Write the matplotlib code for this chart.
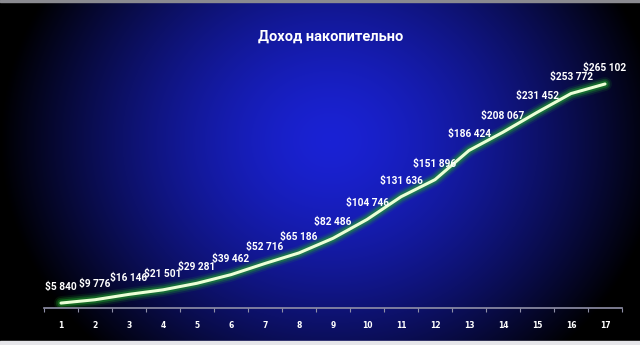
import numpy as np
import matplotlib
matplotlib.use("Agg")
import matplotlib.pyplot as plt
from matplotlib.patches import Rectangle

# данные
months = [str(i) for i in range(1, 18)]
income = [5840, 9776, 16146, 21501, 29281, 39462, 52716, 65186, 82486,
          104746, 131636, 151896, 186424, 208067, 231452, 253772, 265102]
title = "Доход накопительно"


def money(v):
    return "$" + f"{v:,}".replace(",", " ")


fig = plt.figure(figsize=(6.4, 3.45), dpi=100)
fig.patch.set_facecolor("black")

# фон: радиальный градиент
bg = fig.add_axes([0, 0, 1, 1])
bg.set_axis_off()
W, H = 640, 345
xx, yy = np.meshgrid(np.arange(W), np.arange(H))
d = np.sqrt(((xx - 330) / 330.0) ** 2 + ((yy - 140) / 290.0) ** 2)
k = np.clip(1 - d ** 1.5, 0, 1)
center = np.array([26, 34, 212]) / 255.0
img = k[..., None] * center[None, None, :]
bg.imshow(img, extent=[0, 1, 0, 1], aspect="auto", origin="upper")
bg.set_xlim(0, 1)
bg.set_ylim(0, 1)
bg.add_patch(Rectangle((0, 0), 1, 4 / H, color="#e6e6ea", zorder=3))
bg.add_patch(Rectangle((0, 1 - 1.5 / H), 1, 1.5 / H, color="#8a8a90", zorder=3))

ax = fig.add_axes([44 / W, 37 / H, 578 / W, 253.5 / H])
ax.set_facecolor("none")
x = np.arange(len(months))

# свечение
for lw, a in [(10, 0.12), (7.5, 0.25), (5, 0.45)]:
    ax.plot(x, income, color="#1fa02a", linewidth=lw, alpha=a,
            solid_capstyle="round", solid_joinstyle="round")
ax.plot(x, income, color="#eaffd6", linewidth=2.2,
        solid_capstyle="round", solid_joinstyle="round")

for xi, v in zip(x, income):
    ax.annotate(money(v), (xi, v), xytext=(0, 8), textcoords="offset points",
                ha="center", va="bottom", color="white", fontsize=7.3,
                fontweight="bold", family="Roboto")

ax.set_xlim(-0.5, len(months) - 0.5)
ax.set_ylim(0, 300000)
ax.set_yticks([])
ax.set_xticks(x)
ax.set_xticklabels(months, color="white", fontsize=5.5, fontweight="bold")
ax.set_xticks(np.arange(-0.5, len(months)), minor=True)
ax.tick_params(axis="x", which="major", length=0, pad=9)
ax.tick_params(axis="x", which="minor", length=3, color="#9090a8", width=0.8)
for s in ["top", "right", "left"]:
    ax.spines[s].set_visible(False)
ax.spines["bottom"].set_color("#9090a8")
ax.spines["bottom"].set_linewidth(1.2)

fig.text(331 / W, 1 - 37 / H, title, ha="center", va="center",
         color="white", fontsize=10.5, fontweight="bold", family="Roboto")

fig.savefig("out.png", dpi=100, facecolor=fig.get_facecolor())
